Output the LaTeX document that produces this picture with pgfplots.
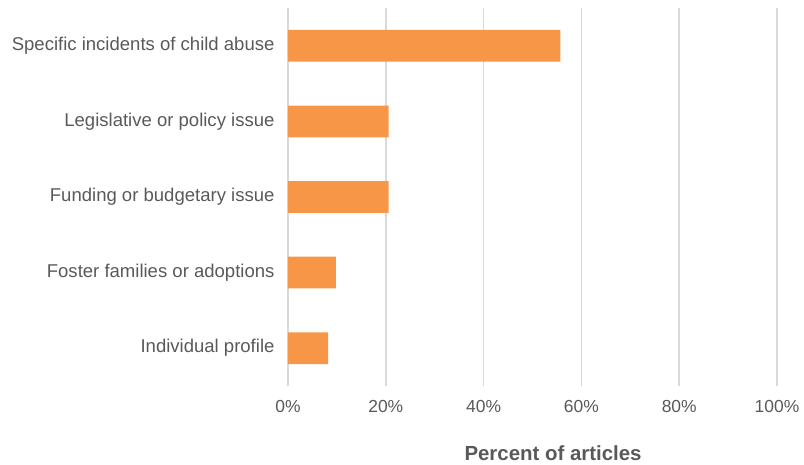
\documentclass[border=0pt]{standalone}
\usepackage{fontspec}
\setmainfont{Liberation Sans}
\usepackage{pgfplots}
\pgfplotsset{compat=1.18}
\definecolor{barorange}{HTML}{F79646}
\definecolor{txtgray}{HTML}{595959}
\definecolor{gridgray}{HTML}{D9D9D9}
\begin{document}
\begin{tikzpicture}
\path[use as bounding box] (-288bp,-79bp) rectangle (516bp,386bp);
\begin{axis}[
  at={(0,0)}, anchor=south west,
  scale only axis,
  width=489bp, height=378bp,
  xbar, bar width=0.42,
  xmin=0, xmax=100,
  ymin=-0.5, ymax=4.5,
  xtick={0,20,40,60,80,100},
  xticklabel={\pgfmathprintnumber{\tick}\%},
  ytick={0,1,2,3,4},
  yticklabels={Individual profile,Foster families or adoptions,Funding or budgetary issue,Legislative or policy issue,Specific incidents of child abuse},
  /pgf/number format/assume math mode=true,
  axis line style={draw=none},
  major tick length=0pt,
  xmajorgrids, grid style={gridgray, line width=1.6bp},
  ticklabel style={text=txtgray},
  xticklabel style={font=\fontsize{17.5}{20}\selectfont, yshift=-11bp},
  yticklabel style={font=\fontsize{18.6}{21}\selectfont, xshift=-10bp},
  xlabel={Percent of articles},
  xlabel style={at={(axis description cs:0.542,-0.177)}, anchor=center, font=\fontsize{20.5}{24}\selectfont\bfseries, text=txtgray},
]
\addplot[fill=barorange, draw=none] coordinates {
  (8.2,0) (9.8,1) (20.6,2) (20.6,3) (55.7,4)
};
\end{axis}
\end{tikzpicture}
\end{document}
